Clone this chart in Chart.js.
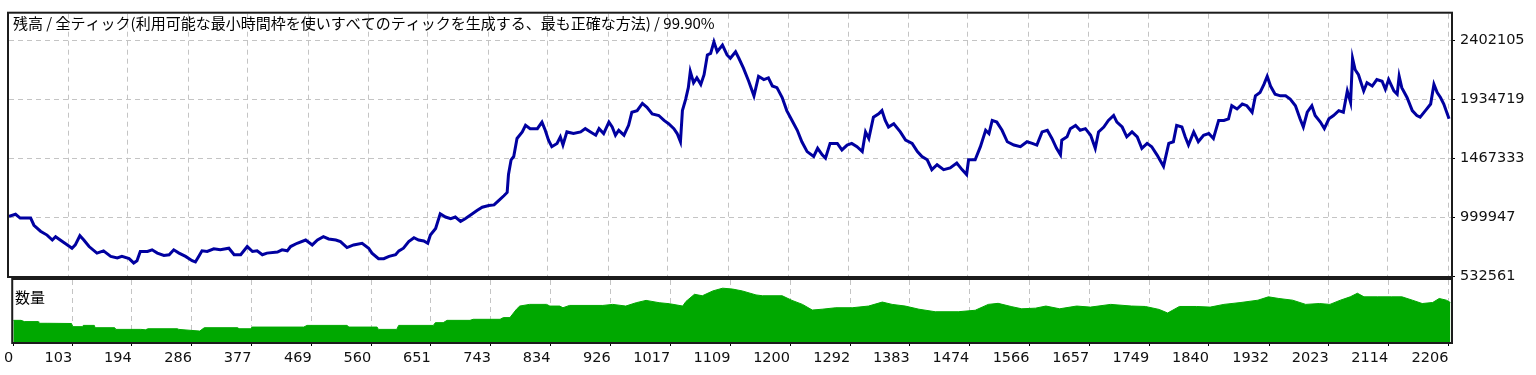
<!DOCTYPE html>
<html>
<head>
<meta charset="utf-8">
<script src="https://cdn.jsdelivr.net/npm/chart.js@4/dist/chart.umd.min.js"></script>
<style>
  body { margin: 0; background: #fff; }
  canvas { position: absolute; left: 0; }
</style>
</head>
<body>
<canvas id="vol" width="1536" height="105" style="top:270px"></canvas>
<canvas id="bal" width="1536" height="300" style="top:0px"></canvas>
<script>
// trade number / balance
const balanceTrade = [13,23,30,46,51,61,71,79,84,91,102,109,114,121,127,135,147,157,168,178,185,196,203,208,213,224,231,239,249,257,264,272,282,292,297,302,307,315,325,335,348,356,366,376,384,391,399,406,422,429,437,442,452,465,475,483,492,500,511,518,528,538,551,561,
  566,576,584,592,602,607,614,622,630,637,645,651,655,663,670,678,686,693,701,708,719,726,734,744,752,759,767,772,774,778,782,787,795,800,807,818,825,830,835,840,848,853,857,863,873,884,891,899,907,912,919,927,932,937,942,950,957,962,970,978,985,993,1003,1011,1018,1026,1031,1036,1039,1044,1048,1051,1056,1061,1067,1072,1077,1082,1087,1092,1100,1107,
  1112,1120,1125,1132,1140,1148,1155,1163,1170,1176,1183,1191,1198,1206,1214,1221,1229,1239,1245,1252,1257,1264,1275,1282,1290,1297,1305,1313,1318,1323,1330,1338,1343,1348,1353,1361,1371,1379,1389,1397,1404,1412,1419,1427,1437,1447,1457,1465,1472,1475,1485,1493,1501,1506,1511,1518,1526,1534,1544,1554,1564,1572,1579,1587,1595,1602,1609,1615,1617,1625,1630,1638,1645,1653,1661,
  1668,1673,1681,1688,1696,1701,1709,1716,1724,1732,1739,1747,1754,1762,1772,1780,1787,1792,1800,1805,1810,1818,1825,1833,1841,1848,1856,1864,1871,1876,1884,1892,1899,1907,1912,1919,1925,1930,1935,1942,1950,1958,1965,1973,1980,1985,1991,1998,2003,2011,2017,2024,2031,2039,2046,2052,2057,2060,2064,2069,2077,2082,2090,2097,2105,2110,2115,2123,2128,2131,2135,2143,2151,2158,2163,2171,2179,2184,2189,2194,2199,2207];
const balance = [1005000,1022000,992000,992000,935000,888000,857000,818000,844000,818000,779000,753000,779000,852000,818000,766000,714000,732000,688000,675000,688000,670000,636000,654000,727000,727000,740000,714000,696000,701000,740000,714000,688000,654000,644000,688000,732000,727000,748000,740000,753000,701000,701000,766000,727000,732000,701000,714000,722000,740000,732000,766000,792000,818000,779000,818000,844000,826000,818000,805000,758000,779000,792000,753000,
  714000,670000,670000,688000,701000,732000,753000,805000,836000,818000,810000,792000,857000,909000,1026000,1000000,987000,1000000,966000,987000,1026000,1052000,1078000,1091000,1096000,1130000,1169000,1195000,1337000,1454000,1480000,1623000,1675000,1727000,1701000,1701000,1753000,1688000,1610000,1558000,1584000,1636000,1571000,1675000,1662000,1675000,1701000,1675000,1649000,1701000,1662000,1753000,1714000,1649000,1688000,1649000,1727000,1831000,1844000,1901000,1870000,1818000,1805000,1766000,1740000,1701000,1662000,1597000,1844000,1935000,2026000,2155000,2065000,2104000,2052000,2129000,2285000,2298000,2389000,2311000,2363000,2285000,
  2259000,2311000,2259000,2181000,2077000,1961000,2116000,2090000,2104000,2039000,2026000,1948000,1844000,1766000,1688000,1597000,1519000,1480000,1545000,1493000,1467000,1584000,1584000,1532000,1571000,1584000,1558000,1519000,1675000,1623000,1792000,1818000,1844000,1766000,1714000,1740000,1675000,1610000,1584000,1519000,1480000,1454000,1376000,1415000,1376000,1389000,1428000,1376000,1337000,1454000,1454000,1558000,1688000,1662000,1766000,1753000,1688000,1597000,1571000,1558000,1597000,1584000,1571000,1675000,1688000,1623000,1545000,1493000,1610000,1636000,1701000,1727000,1688000,1701000,1649000,
  1545000,1675000,1714000,1766000,1805000,1753000,1714000,1636000,1675000,1636000,1545000,1584000,1558000,1493000,1402000,1584000,1597000,1727000,1714000,1636000,1571000,1675000,1597000,1649000,1662000,1623000,1766000,1766000,1779000,1883000,1857000,1896000,1883000,1831000,1961000,1987000,2052000,2116000,2039000,1974000,1961000,1961000,1935000,1883000,1779000,1714000,1831000,1883000,1805000,1753000,1701000,1779000,1805000,1844000,1831000,2000000,1909000,2259000,2168000,2129000,2000000,2065000,2039000,2090000,2077000,2013000,2090000,2000000,1974000,2116000,2026000,1948000,1844000,1805000,1792000,1844000,1896000,2052000,1987000,1948000,1896000,1779000];

// trade number / volume (lots)
const volumeTrade = [13,25,30,51,52,66,102,104,119,120,137,138,168,170,208,215,219,264,266,298,305,356,358,376,378,457,462,523,526,569,571,599,602,655,658,670,676,711,716,757,762,772,782,787,802,828,833,848,853,863,914,929,949,965,980,1000,1016,1036,1041,1054,1066,1082,1097,1112,1127,1148,1158,1188,1203,1219,1234,1249,1270,1295,1320,1341,1356,1376,1397,1422,1457,1483,1503,1518,
  1539,1554,1575,1591,1612,1638,1659,1690,1722,1743,1764,1777,1795,1821,1842,1863,1889,1915,1931,1947,1968,1988,2009,2025,2041,2056,2067,2077,2098,2119,2135,2151,2166,2182,2192,2203,2209];
const volume = [10.3,10.3,9.7,9.7,8.9,8.9,8.8,7.3,7.3,7.9,7.9,6.8,6.8,6.0,6.0,5.8,6.3,6.3,6.0,5.2,6.8,6.8,6.3,6.3,7.1,7.1,7.9,7.9,7.1,7.1,6.0,6.0,7.9,7.9,9.2,9.2,10.3,10.3,10.8,10.8,11.6,11.6,15.6,17.1,17.9,17.9,17.1,17.1,16.3,17.4,17.4,17.9,17.1,18.7,19.8,18.7,18.2,17.1,19.3,22.7,22.0,24.3,25.6,25.2,24.3,22.4,22.0,22.0,19.8,17.9,15.2,15.6,16.3,16.3,17.1,19.0,17.9,17.1,15.6,14.4,14.4,15.1,17.9,18.4,
  16.8,15.8,16.1,17.1,15.8,17.1,16.6,17.9,17.1,16.9,15.5,13.8,16.9,16.9,16.6,17.9,18.8,19.9,21.5,20.7,19.9,17.9,18.3,17.9,19.9,21.5,23.2,21.5,21.5,21.5,21.5,19.9,18.3,18.8,20.7,19.9,18.8];

const xTickLabels = [0,103,194,286,377,469,560,651,743,834,926,1017,1109,1200,1292,1383,1474,1566,1657,1749,1840,1932,2023,2114,2206];
const yTickLabels = [532561,999947,1467333,1934719,2402105];
const balanceCaption = '残高 / 全ティック(利用可能な最小時間枠を使いすべてのティックを生成する、最も正確な方法) / 99.90%';
const volumeCaption = '数量';

const X_MIN = 13, X_MAX = 2210;
const gridColor = '#c4c4c4';
const labelFont = {family: 'DejaVu Sans', size: 14.5};

function pts(xs, ys) {
  return xs.map((x, i) => ({x: x, y: ys[i]}));
}

function xAxis(showLabels) {
  return {
    type: 'linear', min: X_MIN, max: X_MAX,
    afterBuildTicks: s => { s.ticks = xTickLabels.map(v => ({value: Math.max(v, X_MIN)})); },
    afterFit: s => { s.height = showLabels ? 33 : 0; },
    ticks: {display: showLabels, autoSkip: false, maxRotation: 0, align: 'end', padding: 4,
            color: '#111', font: labelFont, callback: (v, i) => String(xTickLabels[i])},
    grid: {color: c => c.index === 0 ? 'rgba(0,0,0,0)' : gridColor, borderDash: [5, 4],
           drawTicks: showLabels, tickLength: 4, tickColor: '#000', tickBorderDash: []},
    border: {display: false, dash: [5, 4]}
  };
}

// draws the box round the plot and the caption inside it
function framePlugin(caption, cx, cy) {
  return {
    id: 'frame',
    afterDraw(chart) {
      const a = chart.chartArea, ctx = chart.ctx;
      ctx.save();
      ctx.strokeStyle = '#1c1c1c';
      ctx.lineWidth = 2;
      ctx.strokeRect(a.left - 1, a.top - 1, a.right - a.left + 2, a.bottom - a.top + 2);
      ctx.fillStyle = '#000';
      ctx.font = '15px "Noto Sans CJK JP"';
      ctx.textBaseline = 'middle';
      ctx.fillText(caption, cx, cy);
      ctx.restore();
    }
  };
}

new Chart(document.getElementById('bal'), {
  type: 'line',
  data: {datasets: [{
    data: pts(balanceTrade, balance),
    borderColor: '#0000a0', borderWidth: 3, pointRadius: 0, tension: 0
  }]},
  options: {
    responsive: false, animation: false, events: [],
    layout: {padding: {left: 9, top: 8, right: 0, bottom: 24}},
    plugins: {legend: {display: false}, tooltip: {enabled: false}},
    scales: {
      x: xAxis(false),
      y: {
        position: 'right', min: 532561, max: 2612429,
        afterBuildTicks: s => { s.ticks = yTickLabels.map(v => ({value: v})); },
        afterFit: s => { s.width = 85; },
        ticks: {color: '#111', font: labelFont, padding: 5, callback: v => String(v)},
        grid: {color: gridColor, borderDash: [5, 4], tickLength: 4, tickColor: '#000', tickBorderDash: []},
        border: {display: false, dash: [5, 4]}
      }
    }
  },
  plugins: [framePlugin(balanceCaption, 13, 23)]
});

new Chart(document.getElementById('vol'), {
  type: 'line',
  data: {datasets: [{
    data: pts(volumeTrade, volume),
    borderColor: '#00a800', backgroundColor: '#00a800', borderWidth: 1,
    fill: 'origin', pointRadius: 0, tension: 0
  }]},
  options: {
    responsive: false, animation: false, events: [],
    layout: {padding: {left: 9, top: 10, right: 0, bottom: 0}},
    plugins: {legend: {display: false}, tooltip: {enabled: false}},
    scales: {
      x: xAxis(true),
      y: {
        position: 'right', min: 0, max: 29.5,
        afterFit: s => { s.width = 85; },
        ticks: {display: false},
        grid: {display: false},
        border: {display: false}
      }
    }
  },
  plugins: [framePlugin(volumeCaption, 15, 27)]
});
</script>
</body>
</html>
